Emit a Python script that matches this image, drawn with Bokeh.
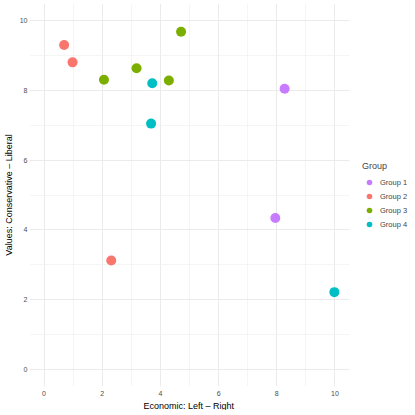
from bokeh.plotting import figure
from bokeh.models import ColumnDataSource, Legend, LegendItem, FixedTicker, Range1d, Title, Grid
from bokeh.embed import file_html
from bokeh.resources import INLINE

economic = [8.27, 7.95, 0.69, 0.98, 2.31, 2.06, 3.18, 4.29, 4.71, 3.72, 3.68, 9.98]
values = [8.05, 4.34, 9.31, 8.81, 3.12, 8.31, 8.64, 8.29, 9.69, 8.21, 7.05, 2.21]
groups = ["Group 1"] * 2 + ["Group 2"] * 3 + ["Group 3"] * 4 + ["Group 4"] * 3
group_names = ["Group 1", "Group 2", "Group 3", "Group 4"]
group_colors = ["#C77CFF", "#F8766D", "#7CAE00", "#00BFC4"]
x_ticks = [0, 2, 4, 6, 8, 10]
y_ticks = [0, 2, 4, 6, 8, 10]
minor_ticks = [1, 3, 5, 7, 9]

FONT = "Liberation Sans"
FRAME_W = 383
DATA_W = 320
x_end = -0.5 + 11 * FRAME_W / DATA_W

p = figure(frame_width=FRAME_W, frame_height=383, output_backend="svg", toolbar_location=None,
           x_range=Range1d(-0.5, x_end), y_range=Range1d(-0.5, 10.5),
           min_border_left=0, min_border_right=0, min_border_top=3, min_border_bottom=0)
p.outline_line_color = None
p.background_fill_color = "white"
p.border_fill_color = "white"

items = []
for name, color in zip(group_names, group_colors):
    xs = [x for x, g in zip(economic, groups) if g == name]
    ys = [y for y, g in zip(values, groups) if g == name]
    src = ColumnDataSource(dict(x=xs, y=ys))
    r = p.scatter("x", "y", source=src, size=10, fill_color=color, line_color=None)
    items.append(LegendItem(label=name, renderers=[r]))

for ax, ticks in ((p.xaxis, x_ticks), (p.yaxis, y_ticks)):
    ax.ticker = FixedTicker(ticks=ticks, minor_ticks=minor_ticks)
    ax.axis_line_color = None
    ax.major_tick_line_color = None
    ax.minor_tick_line_color = None
    ax.major_tick_out = 0
    ax.minor_tick_out = 0
    ax.major_label_text_font = FONT
    ax.major_label_text_font_size = "7px"
    ax.major_label_text_color = "#4D4D4D"
    ax.axis_label_text_font = FONT
    ax.axis_label_text_font_size = "9px"
    ax.axis_label_text_font_style = "normal"
    ax.axis_label_text_color = "black"

p.xaxis.major_label_standoff = 4
p.yaxis.major_label_standoff = 2
p.yaxis.axis_label_standoff = 3
p.xaxis.bounds = (-0.5, 10.5)
p.yaxis.axis_label = "Values: Conservative – Liberal"

xtitle = Title(text="Economic: Left – Right", align="left", offset=114,
               text_font=FONT, text_font_size="9px", text_font_style="normal",
               text_color="black", standoff=0)
p.add_layout(xtitle, "below")

for g in (p.xgrid, p.ygrid):
    g.grid_line_color = "#EBEBEB"
    g.grid_line_width = 1
    g.minor_grid_line_color = "#EFEFEF"
    g.minor_grid_line_width = 0.6
    g.bounds = (-0.5, 10.5)
    if "cross_bounds" in Grid.properties():
        g.cross_bounds = (-0.5, 10.5)

legend = Legend(items=items, title="Group", location=(333, 155),
                orientation="vertical")
legend.title_text_font = FONT
legend.title_text_font_size = "9px"
legend.title_text_font_style = "normal"
legend.title_standoff = 4
legend.label_text_font = FONT
legend.label_text_font_size = "7.5px"
legend.label_standoff = 4
legend.glyph_width = 14
legend.glyph_height = 14
legend.label_height = 14
legend.spacing = 0
legend.padding = 0
legend.margin = 0
legend.border_line_color = None
legend.background_fill_alpha = 0
p.add_layout(legend)

open("out.html", "w").write(file_html(p, INLINE))
